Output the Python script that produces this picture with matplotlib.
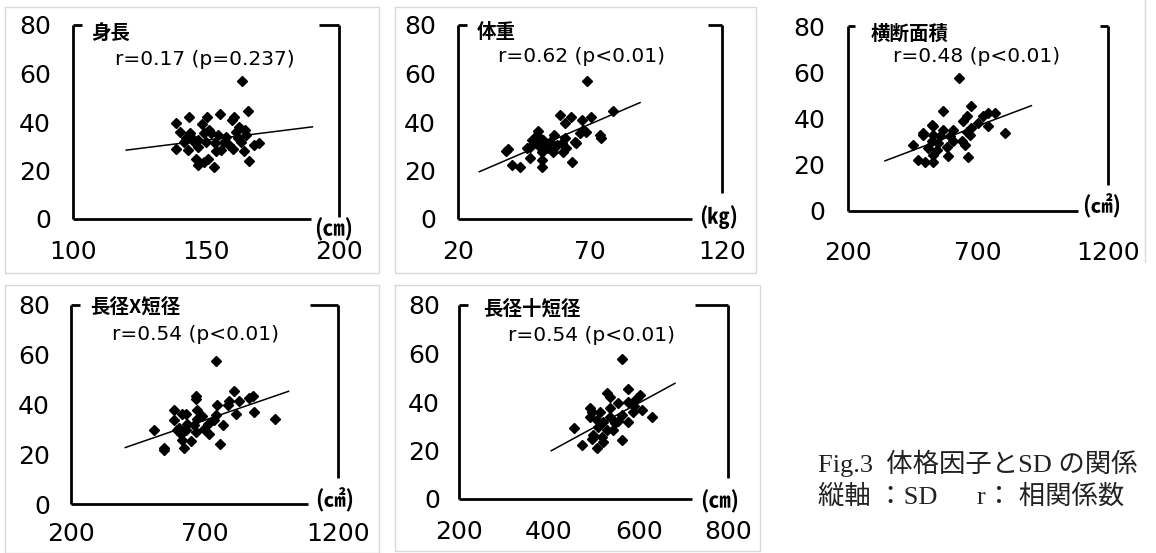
import matplotlib
matplotlib.use("Agg")
import matplotlib.pyplot as plt
from matplotlib.lines import Line2D

plt.rcParams['font.family'] = ['DejaVu Sans', 'Noto Sans CJK JP']

# ---------------- data ----------------
sd_ticks = [0, 20, 40, 60, 80]

height_x = [163.5, 165.9, 143.6, 150.3, 155.4, 160.4, 159.8, 138.6, 148.6, 140.1, 143.8, 144.4,
            151.0, 151.9, 161.3, 164.8, 154.4, 157.5, 161.9, 165.0, 141.9, 146.9, 150.0, 153.2,
            156.9, 163.2, 168.2, 170.0, 138.8, 143.2, 146.9, 153.8, 155.7, 160.0, 164.2, 146.3,
            150.7, 146.9, 152.9, 166.3, 149.4, 142.6, 145.4, 158.8, 149.4, 162.5]
height_y = [57.0, 44.7, 42.2, 41.9, 43.3, 42.2, 40.8, 39.5, 39.2, 35.7, 35.3, 33.9,
            36.7, 35.3, 36.0, 36.7, 34.6, 33.9, 33.3, 34.6, 31.9, 32.6, 31.9, 31.2,
            31.9, 31.9, 30.5, 31.5, 28.7, 28.5, 29.8, 28.2, 28.5, 28.7, 28.2, 24.6,
            24.6, 22.3, 21.6, 23.9, 23.6, 33.3, 31.9, 30.5, 35.3, 38.1]
height_fit_x = [120, 190]
height_fit_y = [28.4, 38.0]

weight_x = [69.0, 78.7, 58.5, 62.7, 70.5, 67.1, 60.4, 50.3, 49.7, 56.4, 67.3, 68.6, 73.7, 74.3,
            47.8, 52.2, 54.7, 64.2, 45.9, 50.3, 54.1, 61.0, 64.5, 38.9, 51.6, 56.0, 59.8, 47.2,
            51.6, 40.2, 43.4, 51.6, 63.3, 49.0, 57.3, 60.4, 50.3, 52.8, 66.1, 59.2, 47.2, 38.0]
weight_y = [56.9, 44.7, 42.9, 42.2, 42.2, 40.8, 39.5, 36.4, 34.6, 34.6, 36.7, 36.0, 34.6, 33.3,
            32.6, 32.6, 31.9, 31.9, 29.1, 30.5, 29.1, 29.1, 31.2, 28.7, 27.8, 27.8, 27.8, 25.0,
            24.3, 22.3, 21.3, 21.3, 23.6, 31.9, 30.5, 33.3, 33.9, 29.8, 35.3, 31.2, 29.8, 28.2]
weight_fit_x = [28, 89]
weight_fit_y = [19.5, 48.0]

area_x = [627.6, 566.0, 675.0, 656.0, 738.8, 764.0, 719.6, 643.0, 521.8, 566.0, 604.6, 738.8,
          802.7, 489.8, 528.0, 553.6, 592.0, 656.0, 668.6, 521.8, 547.0, 636.8, 649.4, 451.4,
          508.8, 541.0, 579.3, 470.5, 496.0, 528.0, 585.4, 662.0, 528.0, 604.6, 675.0, 489.8,
          528.0, 700.0]
area_y = [57.3, 43.0, 45.2, 41.2, 42.3, 42.3, 40.9, 38.7, 37.3, 35.1, 35.1, 36.5,
          33.7, 33.7, 32.9, 32.2, 32.2, 34.3, 32.9, 30.0, 29.3, 30.0, 28.6, 28.6,
          27.1, 26.4, 27.8, 22.0, 20.9, 21.3, 23.8, 23.2, 24.2, 30.0, 35.8, 32.9,
          36.5, 38.0]
area_fit_x = [343, 905]
area_fit_y = [21.6, 45.5]

prod_x = [742.5, 811.0, 667.0, 667.0, 880.0, 868.0, 792.5, 830.0, 746.0, 673.5, 585.7, 617.3,
          630.0, 786.5, 817.7, 886.5, 961.6, 585.7, 673.5, 742.5, 767.7, 711.3, 636.0, 510.5,
          598.5, 629.7, 661.0, 698.5, 717.3, 667.0, 611.0, 617.3, 648.5, 623.3, 548.0, 548.0,
          757.5, 736.0, 690.0, 605.0]
prod_y = [57.6, 45.6, 43.6, 42.3, 43.6, 42.5, 41.6, 41.6, 40.0, 37.9, 37.6, 36.3,
          36.3, 39.6, 36.3, 36.9, 34.3, 33.9, 34.3, 35.6, 31.6, 32.3, 32.3, 29.6,
          29.6, 29.6, 31.6, 30.3, 28.3, 28.9, 28.3, 25.6, 25.3, 22.7, 22.7, 21.6,
          24.3, 33.6, 35.5, 30.5]
prod_fit_x = [404, 1014]
prod_fit_y = [22.7, 45.3]

sum_x = [562.2, 577.0, 528.8, 536.0, 603.0, 595.7, 577.0, 554.7, 536.0, 491.5, 495.3, 513.8,
         588.0, 606.9, 629.2, 491.5, 536.0, 562.2, 521.2, 577.0, 547.3, 455.0, 510.0, 528.8,
         543.5, 498.9, 517.6, 495.3, 562.2, 473.0, 506.4, 521.2, 506.4, 555.0, 584.6, 590.0]
sum_y = [57.7, 45.2, 43.6, 42.2, 42.9, 41.5, 40.1, 39.5, 37.4, 37.4, 36.0, 36.0,
         36.0, 36.7, 33.9, 33.9, 33.9, 34.6, 31.9, 31.9, 31.2, 29.2, 29.8, 28.5,
         28.5, 26.4, 25.7, 24.6, 24.3, 22.3, 21.2, 23.6, 32.6, 32.0, 39.5, 38.5]
sum_fit_x = [405, 681]
sum_fit_y = [19.9, 47.7]

titles = ['身長', '体重', '横断面積', '長径X短径', '長径十短径']
r_texts = ['r=0.17 (p=0.237)', 'r=0.62 (p<0.01)', 'r=0.48 (p<0.01)',
           'r=0.54 (p<0.01)', 'r=0.54 (p<0.01)']
units = ['(㎝)', '(㎏)', '(㎠)', '(㎠)', '(㎝)']
x_ticks = [[100, 150, 200], [20, 70, 120], [200, 700, 1200], [200, 700, 1200],
           [200, 400, 600, 800]]
caption_1 = 'Fig.3  体格因子とSD の関係'
caption_2 = '縦軸 ：SD　  r： 相関係数'

# ---------------- layout ----------------
W, H = 1156, 553
fig = plt.figure(figsize=(W / 100, H / 100), dpi=100)
fig.patch.set_facecolor('white')


def fx(px):
    return px / W


def fy(py):
    return 1 - py / H


# light panel frames
frame_col = '#d9d9d9'
frames = [(5, 7, 379, 273), (395, 7, 756, 273), (5, 285, 379, 553), (395, 285, 760, 551)]
for (x0, y0, x1, y1) in frames:
    fig.add_artist(Line2D([fx(x0), fx(x1), fx(x1), fx(x0), fx(x0)],
                          [fy(y0), fy(y0), fy(y1), fy(y1), fy(y0)],
                          transform=fig.transFigure, color=frame_col, lw=1))
fig.add_artist(Line2D([fx(1145), fx(1145)], [fy(0), fy(262)],
                      transform=fig.transFigure, color=frame_col, lw=1))

panels = [
    dict(x=height_x, y=height_y, fx_=height_fit_x, fy_=height_fit_y,
         px=(73, 339, 219, 25), bottom_end=0.895, right_low=0.012,
         top_l=0.033, top_r=0.925, tpos=(0.07, 0.955), rpos=(0.157, 0.82),
         upos=(0.98, -0.057), xpad=15, ypad=16),
    dict(x=weight_x, y=weight_y, fx_=weight_fit_x, fy_=weight_fit_y,
         px=(458.3, 721.7, 219, 25), bottom_end=0.886, right_low=0.136,
         top_l=0.032, top_r=0.948, tpos=(0.071, 0.96), rpos=(0.152, 0.837),
         upos=(0.987, 0.012), xpad=15, ypad=16),
    dict(x=area_x, y=area_y, fx_=area_fit_x, fy_=area_fit_y,
         px=(847.7, 1108.3, 210.7, 26), bottom_end=0.884, right_low=0.139,
         top_l=0.028, top_r=0.968, tpos=(0.086, 0.955), rpos=(0.175, 0.834),
         upos=(0.975, 0.022), xpad=22, ypad=16),
    dict(x=prod_x, y=prod_y, fx_=prod_fit_x, fy_=prod_fit_y,
         px=(70.7, 338.3, 504, 305), bottom_end=0.888, right_low=0.129,
         top_l=0.035, top_r=0.894, tpos=(0.072, 0.985), rpos=(0.153, 0.85),
         upos=(0.988, 0.02), xpad=13, ypad=15),
    dict(x=sum_x, y=sum_y, fx_=sum_fit_x, fy_=sum_fit_y,
         px=(459.3, 728.3, 499, 305), bottom_end=0.864, right_low=0.107,
         top_l=0.033, top_r=0.876, tpos=(0.089, 0.978), rpos=(0.182, 0.845),
         upos=(0.969, -0.014), xpad=15, ypad=14),
]

for i, p in enumerate(panels):
    x0, x1, yb, yt = p['px']
    ax = fig.add_axes([fx(x0), fy(yb), fx(x1) - fx(x0), fy(yt) - fy(yb)])
    ax.set_facecolor('none')
    xt = x_ticks[i]
    ax.set_xlim(xt[0], xt[-1])
    ax.set_ylim(0, 80)
    for s in ax.spines.values():
        s.set_visible(False)

    # scatter + regression line
    ax.plot(p['x'], p['y'], linestyle='none', marker='D', markersize=5.5,
            color='black', clip_on=False)
    ax.plot(p['fx_'], p['fy_'], color='black', lw=1.1)

    # axis frame pieces
    lw = 2.0
    kw = dict(transform=ax.transAxes, color='black', lw=lw, clip_on=False,
              solid_capstyle='butt')
    ax.add_line(Line2D([0, 0], [0, 1], **kw))
    ax.add_line(Line2D([0, p['bottom_end']], [0, 0], **kw))
    ax.add_line(Line2D([0, p['top_l']], [1, 1], **kw))
    ax.add_line(Line2D([p['top_r'], 1], [1, 1], **kw))
    ax.add_line(Line2D([1, 1], [p['right_low'], 1], **kw))

    # ticks: labels (major, no marks) and inward marks (minor)
    ax.set_xticks(xt)
    ax.set_xticklabels([str(v) for v in xt])
    ax.set_xticks(xt[1:-1], minor=True)
    ax.set_yticks(sd_ticks)
    ax.set_yticklabels([str(v) for v in sd_ticks])
    ax.set_yticks(sd_ticks[1:-1], minor=True)
    ax.tick_params(axis='both', which='major', length=0, labelsize=18,
                   labelcolor='black')
    ax.tick_params(axis='x', which='major', pad=p['xpad'])
    ax.tick_params(axis='y', which='major', pad=p['ypad'])
    ax.tick_params(axis='x', which='minor', direction='in', length=5.5, width=lw,
                   color='black', bottom=True, labelbottom=False)
    ax.tick_params(axis='y', which='minor', direction='in', length=4, width=lw,
                   color='black', left=True, labelleft=False)

    # texts
    ax.text(p['tpos'][0], p['tpos'][1], titles[i], transform=ax.transAxes,
            ha='left', va='center', fontsize=14, fontweight='bold',
            family=['Noto Sans CJK JP'])
    ax.text(p['rpos'][0], p['rpos'][1], r_texts[i], transform=ax.transAxes,
            ha='left', va='center', fontsize=14.5, family=['DejaVu Sans'])
    ax.text(p['upos'][0], p['upos'][1], units[i], transform=ax.transAxes,
            ha='center', va='center', fontsize=16, fontweight='bold',
            family=['Noto Sans CJK JP', 'DejaVu Sans'])

# caption
cap_family = ['Liberation Serif', 'Noto Sans CJK JP']
fig.text(fx(818), fy(463), caption_1, ha='left', va='center', fontsize=19,
         family=cap_family, color='#222222')
fig.text(fx(818), fy(497), caption_2, ha='left', va='center', fontsize=19,
         family=cap_family, color='#222222')

fig.savefig('out.png', dpi=100, facecolor='white')
